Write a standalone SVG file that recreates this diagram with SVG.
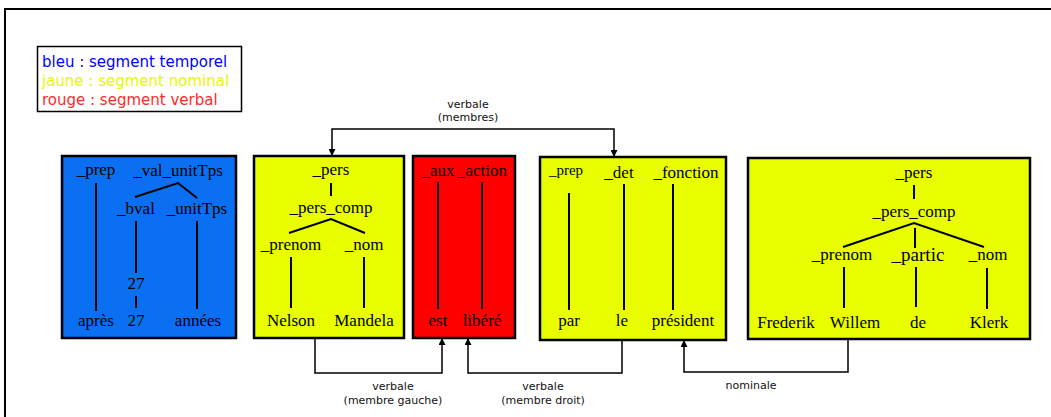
<svg xmlns="http://www.w3.org/2000/svg" width="1051" height="417" viewBox="0 0 1051 417">
<defs>
<marker id="arr" viewBox="0 0 10 10" refX="10" refY="5" markerWidth="7" markerHeight="7" markerUnits="userSpaceOnUse" orient="auto"><path d="M0,0 L10,5 L0,10 z" fill="#000"/></marker>
<style>
.box{stroke:#000;stroke-width:2.5}
.t{font-family:"Liberation Serif","Times New Roman",serif;font-size:17px;fill:#000;text-anchor:middle}
.tl{stroke:#000;stroke-width:2;fill:none}
.c{stroke:#000;stroke-width:1.5;fill:none}
.lab{font-family:"DejaVu Sans",Verdana,sans-serif;font-size:11px;fill:#111;text-anchor:middle}
.leg{font-family:"DejaVu Sans",Verdana,sans-serif;font-size:15px}
</style>
</defs>
<rect width="1051" height="417" fill="#fff"/>
<path d="M5,420 L5,9 L1060,9" fill="none" stroke="#000" stroke-width="2"/>

<g id="legend">
<rect x="37.5" y="46.5" width="204" height="65" fill="#fff" stroke="#000" stroke-width="1.5"/>
<text class="leg" x="42" y="67" fill="#0000ff">bleu : segment temporel</text>
<text class="leg" x="42" y="86" fill="#e4fa00">jaune : segment nominal</text>
<text class="leg" x="42" y="105" fill="#ff2a2a">rouge : segment verbal</text>
</g>

<g id="seg-temporel">
<rect class="box" x="62" y="156" width="174" height="182" fill="#0a6ff0"/>
<text class="t" x="96" y="175">_prep</text>
<text class="t" x="178" y="176">_val_unitTps</text>
<polyline class="tl" points="135,197 178,183 197,198"/>
<text class="t" x="136" y="214">_bval</text>
<text class="t" x="197" y="214">_unitTps</text>
<line class="tl" x1="96" y1="183" x2="96" y2="311"/>
<line class="tl" x1="136" y1="221" x2="136" y2="273"/>
<text class="t" x="136" y="289">27</text>
<line class="tl" x1="136" y1="296" x2="136" y2="308"/>
<line class="tl" x1="197" y1="221" x2="197" y2="309"/>
<text class="t" x="96" y="326">après</text>
<text class="t" x="136" y="326">27</text>
<text class="t" x="198" y="326">années</text>
</g>

<g id="seg-nominal-1">
<rect class="box" x="254" y="156" width="150" height="182" fill="#e9ff00"/>
<text class="t" x="331" y="175">_pers</text>
<line class="tl" x1="331" y1="183" x2="331" y2="196"/>
<text class="t" x="331" y="213">_pers_comp</text>
<polyline class="tl" points="289,233 331,219 365,233"/>
<text class="t" x="291" y="250">_prenom</text>
<text class="t" x="364" y="250">_nom</text>
<line class="tl" x1="291" y1="257" x2="291" y2="308"/>
<line class="tl" x1="364" y1="257" x2="364" y2="308"/>
<text class="t" x="291" y="326">Nelson</text>
<text class="t" x="364" y="326">Mandela</text>
</g>

<g id="seg-verbal">
<rect class="box" x="413" y="156" width="102" height="182" fill="#ff0000"/>
<text class="t" x="438" y="176">_aux</text>
<text class="t" x="482" y="176">_action</text>
<line class="tl" x1="438" y1="182" x2="438" y2="309"/>
<line class="tl" x1="482" y1="182" x2="482" y2="309"/>
<text class="t" x="438" y="326">est</text>
<text class="t" x="482" y="326">libéré</text>
</g>

<g id="seg-nominal-2">
<rect class="box" x="540" y="157" width="186" height="183" fill="#e9ff00" stroke-width="3"/>
<text class="t" x="566" y="175" style="font-size:15px">_prep</text>
<text class="t" x="619" y="178">_det</text>
<text class="t" x="686" y="178">_fonction</text>
<line class="tl" x1="569" y1="193" x2="569" y2="310"/>
<line class="tl" x1="624" y1="184" x2="624" y2="310"/>
<line class="tl" x1="673" y1="184" x2="673" y2="310"/>
<text class="t" x="569" y="326">par</text>
<text class="t" x="622" y="326">le</text>
<text class="t" x="683" y="326">président</text>
</g>

<g id="seg-nominal-3">
<rect class="box" x="748" y="158" width="282" height="181" fill="#e9ff00"/>
<text class="t" x="914" y="178">_pers</text>
<line class="tl" x1="914" y1="185" x2="914" y2="199"/>
<text class="t" x="914" y="217">_pers_comp</text>
<polyline class="tl" points="843,247 914,223 984,247"/>
<line class="tl" x1="915" y1="228" x2="915" y2="248"/>
<text class="t" x="842" y="260">_prenom</text>
<text class="t" x="918" y="261" style="font-size:19px">_partic</text>
<text class="t" x="988" y="260">_nom</text>
<line class="tl" x1="844" y1="267" x2="844" y2="308"/>
<line class="tl" x1="916" y1="267" x2="916" y2="307"/>
<line class="tl" x1="987" y1="268" x2="987" y2="309"/>
<text class="t" x="786" y="328">Frederik</text>
<text class="t" x="855" y="328">Willem</text>
<text class="t" x="918" y="328">de</text>
<text class="t" x="989" y="328">Klerk</text>
</g>

<g id="connectors">
<path class="c" d="M468,129 L332,129 L332,156" marker-end="url(#arr)"/>
<path class="c" d="M468,129 L614,129 L614,157" marker-end="url(#arr)"/>
<text class="lab" x="468" y="108">verbale</text>
<text class="lab" x="468" y="121">(membres)</text>

<path class="c" d="M315,339 L315,373 L442,373 L442,338" marker-end="url(#arr)"/>
<text class="lab" x="393" y="390">verbale</text>
<text class="lab" x="393" y="404">(membre gauche)</text>

<path class="c" d="M622,340 L622,373 L468,373 L468,338" marker-end="url(#arr)"/>
<text class="lab" x="543" y="390">verbale</text>
<text class="lab" x="543" y="404">(membre droit)</text>

<path class="c" d="M848,339 L848,372 L684,372 L684,340" marker-end="url(#arr)"/>
<text class="lab" x="751" y="389">nominale</text>
</g>
</svg>
